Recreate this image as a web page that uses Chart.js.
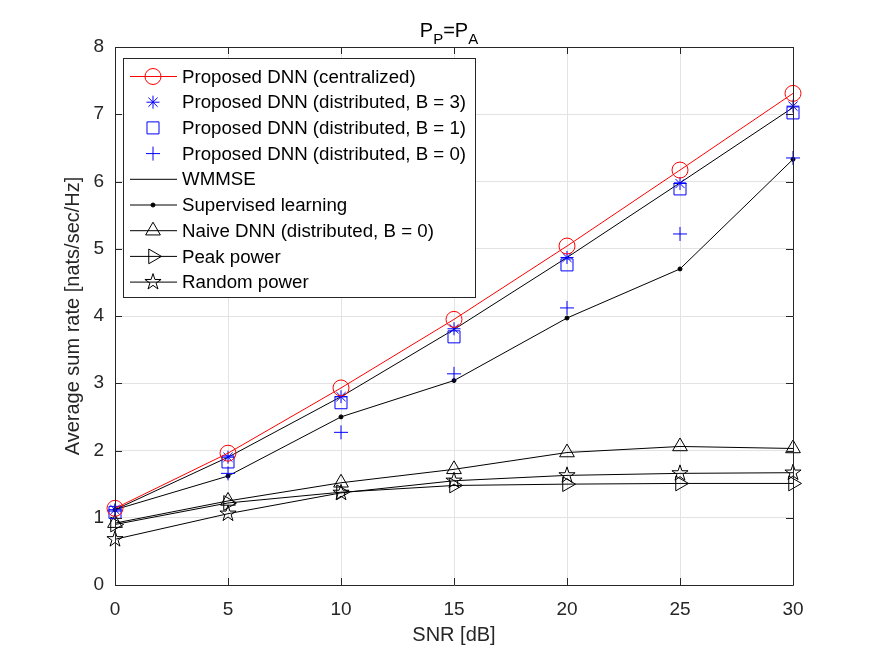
<!DOCTYPE html>
<html>
<head>
<meta charset="utf-8">
<script src="https://cdn.jsdelivr.net/npm/chart.js@4"></script>
<style>
  html,body{margin:0;padding:0;background:#fff}
  #wrap{width:875px;height:657px}
</style>
</head>
<body>
<div id="wrap"><canvas id="c" width="875" height="657"></canvas></div>
<script>
// data
const snr = [0, 5, 10, 15, 20, 25, 30]
const central = [1.14, 1.96, 2.93, 3.95, 5.04, 6.17, 7.31]
const distB3 = [1.12, 1.90, 2.80, 3.81, 4.87, 5.97, 7.12]
const distB1 = [1.08, 1.83, 2.71, 3.69, 4.76, 5.89, 7.02]
const distB0 = [1.10, 1.66, 2.27, 3.14, 4.12, 5.22, 6.35]
const wmmse = [1.12, 1.90, 2.80, 3.80, 4.87, 5.98, 7.10]
const supervised = [1.12, 1.62, 2.50, 3.04, 3.97, 4.70, 6.33]
const naive = [0.92, 1.25, 1.52, 1.72, 1.97, 2.06, 2.03]
const peak = [0.90, 1.22, 1.38, 1.48, 1.50, 1.51, 1.51]
const randomPow = [0.68, 1.06, 1.37, 1.55, 1.63, 1.66, 1.67]

const xTicks = [0, 5, 10, 15, 20, 25, 30]
const yTicks = [0, 1, 2, 3, 4, 5, 6, 7, 8]

const FONT = "'Liberation Sans', Arial, Helvetica, sans-serif"
const AX = '#262626'

function pts(ys){ return snr.map((x,i)=>({x, y: ys[i]})) }

// pentagram outline (MATLAB 'p' marker), drawn by hand
function pentagram(ctx, cx, cy, R){
  const r = R*0.382
  ctx.beginPath()
  for (let i = 0; i < 10; i++){
    const a = -Math.PI/2 + i*Math.PI/5
    const rr = i % 2 ? r : R
    const px = cx + rr*Math.cos(a), py = cy + rr*Math.sin(a)
    if (i) ctx.lineTo(px, py); else ctx.moveTo(px, py)
  }
  ctx.closePath()
  ctx.stroke()
}

function ds(label, ys, o){
  return Object.assign({
    label, data: pts(ys), borderWidth: 1, pointBorderWidth: 1,
    backgroundColor: 'rgba(0,0,0,0)', clip: false, tension: 0
  }, o)
}

const datasets = [
  ds('Proposed DNN (centralized)', central, {borderColor:'#ff0000', pointBorderColor:'#ff0000', pointStyle:'circle', pointRadius:8}),
  ds('Proposed DNN (distributed, B = 3)', distB3, {showLine:false, borderColor:'#0000ff', pointStyle:'star', pointRadius:6.5}),
  ds('Proposed DNN (distributed, B = 1)', distB1, {showLine:false, borderColor:'#0000ff', pointStyle:'rect', pointRadius:8.5}),
  ds('Proposed DNN (distributed, B = 0)', distB0, {showLine:false, borderColor:'#0000ff', pointStyle:'cross', pointRadius:7}),
  ds('WMMSE', wmmse, {borderColor:'#000', pointRadius:0}),
  ds('Supervised learning', supervised, {borderColor:'#000', pointStyle:'circle', pointRadius:2, pointBackgroundColor:'#000'}),
  ds('Naive DNN (distributed, B = 0)', naive, {borderColor:'#000', pointStyle:'triangle', pointRadius:8.5}),
  ds('Peak power', peak, {borderColor:'#000', pointStyle:'triangle', pointRotation:90, pointRadius:8.5}),
  ds('Random power', randomPow, {borderColor:'#000', pointRadius:0, pentagram:8.5})
]

const boxPlugin = {
  id: 'box',
  afterDatasetsDraw(chart){
    const ctx = chart.ctx
    ctx.save()
    chart.data.datasets.forEach((d,i)=>{
      if (!d.pentagram) return
      ctx.strokeStyle = d.borderColor; ctx.lineWidth = 1
      chart.getDatasetMeta(i).data.forEach(p=>pentagram(ctx, p.x, p.y, d.pentagram))
    })
    ctx.restore()
  },
  afterDraw(chart){
    const {ctx, chartArea:a, scales} = chart
    ctx.save()
    ctx.strokeStyle = AX; ctx.lineWidth = 1
    ctx.beginPath()
    ctx.rect(Math.round(a.left)+0.5, Math.round(a.top)+0.5, Math.round(a.right-a.left), Math.round(a.bottom-a.top))
    ctx.stroke()
    // inward ticks on all sides
    const L = 7
    ctx.beginPath()
    xTicks.forEach(v=>{
      const px = Math.round(scales.x.getPixelForValue(v))+0.5
      ctx.moveTo(px, a.bottom); ctx.lineTo(px, a.bottom-L)
      ctx.moveTo(px, a.top); ctx.lineTo(px, a.top+L)
    })
    yTicks.forEach(v=>{
      const py = Math.round(scales.y.getPixelForValue(v))+0.5
      ctx.moveTo(a.left, py); ctx.lineTo(a.left+L, py)
      ctx.moveTo(a.right, py); ctx.lineTo(a.right-L, py)
    })
    ctx.stroke()

    // title P_P = P_A
    const big = '20px ' + FONT, small = '15px ' + FONT
    const parts = [['P',big,0],['P',small,7],['=P',big,0],['A',small,7]]
    let w = 0
    parts.forEach(p=>{ ctx.font = p[1]; w += ctx.measureText(p[0]).width })
    let x = 449 - w/2
    ctx.fillStyle = '#000'; ctx.textBaseline = 'alphabetic'
    parts.forEach(p=>{ ctx.font = p[1]; ctx.fillText(p[0], x, 37 + p[2]); x += ctx.measureText(p[0]).width })

    // legend
    const lx = 123.5, ly = 58.5, lw = 352, lh = 239
    ctx.fillStyle = '#fff'; ctx.fillRect(lx, ly, lw, lh)
    ctx.strokeStyle = AX; ctx.strokeRect(lx, ly, lw, lh)
    ctx.font = '18.7px ' + FONT
    ctx.textBaseline = 'middle'
    chart.data.datasets.forEach((d,i)=>{
      const y = 76.5 + i*25.7
      if (d.showLine !== false){
        ctx.strokeStyle = d.borderColor; ctx.lineWidth = 1
        ctx.beginPath(); ctx.moveTo(130, y); ctx.lineTo(177, y); ctx.stroke()
      }
      ctx.strokeStyle = d.pointBorderColor || d.borderColor
      ctx.fillStyle = d.pointBackgroundColor || 'rgba(0,0,0,0)'
      ctx.lineWidth = 1
      if (d.pentagram) pentagram(ctx, 153, y, d.pentagram)
      else if (d.pointRadius > 0)
        Chart.helpers.drawPoint(ctx, {pointStyle:d.pointStyle, rotation:d.pointRotation||0, radius:d.pointRadius, borderWidth:1}, 153, y)
      ctx.fillStyle = '#000'
      ctx.fillText(d.label, 182, y + 1)
    })
    ctx.restore()
  }
}

new Chart(document.getElementById('c'), {
  type: 'line',
  data: {datasets},
  options: {
    responsive: false,
    animation: false,
    layout: {padding: {left: 0, right: 82, top: 47, bottom: 0}},
    plugins: {legend: {display: false}, tooltip: {enabled: false}, title: {display: false}},
    scales: {
      x: {
        type: 'linear', min: 0, max: 30,
        afterFit(s){ s.height = 72 },
        afterBuildTicks(s){ s.ticks = xTicks.map(v=>({value:v})) },
        grid: {color: '#e3e3e3', drawTicks: false},
        border: {display: false},
        ticks: {padding: 13, color: AX, font: {family: FONT, size: 19}},
        title: {display: true, text: 'SNR [dB]', color: AX, font: {family: FONT, size: 20}, padding: {top: 0, bottom: 10}}
      },
      y: {
        min: 0, max: 8,
        afterFit(s){ s.width = 115 },
        afterBuildTicks(s){ s.ticks = yTicks.map(v=>({value:v})) },
        grid: {color: '#e3e3e3', drawTicks: false},
        border: {display: false},
        ticks: {padding: 11, color: AX, font: {family: FONT, size: 19}},
        title: {display: true, text: 'Average sum rate [nats/sec/Hz]', color: AX, font: {family: FONT, size: 20}, padding: {top: 61, bottom: 0}}
      }
    }
  },
  plugins: [boxPlugin]
})
</script>
</body>
</html>
